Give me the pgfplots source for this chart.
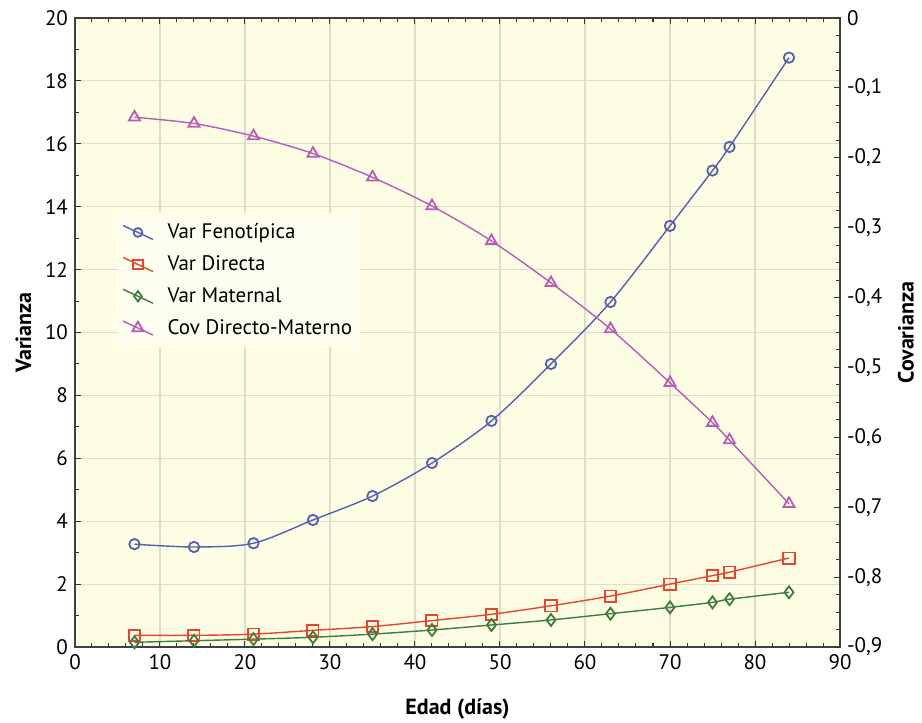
\documentclass[border=0pt]{standalone}
\usepackage{pgfplots}
\pgfplotsset{compat=1.18}
\usepackage{fontspec}
\setmainfont{PT Sans}
\definecolor{bgy}{HTML}{FDFDE4}
\definecolor{legbg}{HTML}{FEFEF0}
\definecolor{gridc}{HTML}{E0DCC8}
\definecolor{cblue}{HTML}{5560B5}
\definecolor{cred}{HTML}{E8452C}
\definecolor{cgreen}{HTML}{3E7D3E}
\definecolor{cmag}{HTML}{B85CB8}
\pgfplotsset{
  common/.style={
    scale only axis, width=382.5pt, height=314.5pt,
    xmin=0, xmax=90,
    tick align=inside,
    major tick length=3pt, minor tick length=1.8pt,
    every tick/.style={black!80, line width=0.5pt},
    tick label style={font=\fontsize{10.5}{12}\selectfont},
    label style={font=\fontsize{11}{13}\selectfont\bfseries},
    /pgf/number format/assume math mode=true,
    axis line style={black!75, line width=0.9pt},
  },
  lin/.style={line width=0.7pt, smooth, tension=0.5},
  mk/.style={mark options={line width=0.9pt, fill=bgy, solid}},
}
\begin{document}
\begin{tikzpicture}
\begin{axis}[common, name=main,
  ymin=0, ymax=20,
  xtick distance=10, ytick distance=2,
  minor x tick num=4, minor y tick num=1,
  xtick pos=both, ytick pos=left,
  grid=major, major grid style={gridc, line width=0.6pt},
  axis background/.style={fill=bgy},
  xlabel={Edad (días)}, ylabel={Varianza},
  xlabel style={yshift=-8pt},
  ylabel style={yshift=0pt},
]
\addplot[cblue, lin, mark=o, mark size=2.6pt, mk] coordinates {
 (7,3.27) (14,3.18) (21,3.3) (28,4.04) (35,4.8) (42,5.85) (49,7.19) (56,9.0) (63,10.97) (70,13.39) (75,15.15) (77,15.9) (84,18.74)};
\addplot[cred, lin, mark=square, mark size=2.8pt, mk] coordinates {
 (7,0.37) (14,0.37) (21,0.41) (28,0.53) (35,0.65) (42,0.84) (49,1.04) (56,1.31) (63,1.62) (70,2.0) (75,2.27) (77,2.38) (84,2.83)};
\addplot[cgreen, lin, mark=diamond, mark size=3pt, mk] coordinates {
 (7,0.15) (14,0.2) (21,0.25) (28,0.31) (35,0.41) (42,0.54) (49,0.70) (56,0.86) (63,1.06) (70,1.26) (75,1.42) (77,1.52) (84,1.74)};
\end{axis}
\begin{axis}[common,
  ymin=-0.9, ymax=0,
  axis x line=none,
  axis y line*=right,
  ytick distance=0.1, minor y tick num=3,
  /pgf/number format/use comma,
  /pgf/number format/fixed,
  /pgf/number format/precision=1,
  ylabel={Covarianza},
  ylabel style={yshift=-1pt},
  legend style={at={(rel axis cs:0.056,0.69)}, anchor=north west, draw=none, fill=legbg,
    font=\fontsize{10.5}{12}\selectfont, row sep=3pt, inner xsep=2pt, inner ysep=3pt},
  legend cell align=left,
  legend image code/.code={\draw[mark repeat=2,mark phase=2] plot coordinates {(0pt,3.5pt)(7.5pt,0pt)(15pt,-3.5pt)}; \path (20pt,0pt);},
]
\addlegendimage{cblue, line width=0.7pt, mark=o, mark size=2.2pt, mk}
\addlegendentry{Var Fenotípica}
\addlegendimage{cred, line width=0.7pt, mark=square, mark size=2.4pt, mk}
\addlegendentry{Var Directa}
\addlegendimage{cgreen, line width=0.7pt, mark=diamond, mark size=2.6pt, mk}
\addlegendentry{Var Maternal}
\addplot[cmag, lin, mark=triangle, mark size=3.2pt, mk] coordinates {
 (7,-0.142) (14,-0.151) (21,-0.169) (28,-0.194) (35,-0.228) (42,-0.269) (49,-0.319) (56,-0.379) (63,-0.445) (70,-0.522) (75,-0.579) (77,-0.604) (84,-0.695)};
\addlegendentry{Cov Directo-Materno}
\end{axis}
\pgfresetboundingbox
\path[use as bounding box] (main.south west) ++(-37.5pt,-37.5pt) rectangle ([xshift=41pt,yshift=9pt]main.north east);
\end{tikzpicture}
\end{document}
